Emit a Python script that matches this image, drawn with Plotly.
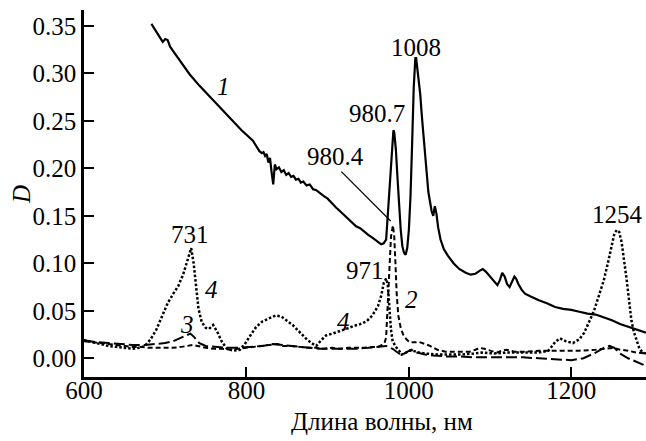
import plotly.graph_objects as go

# ---------------- data ----------------
wl1 = [683, 687, 690, 694, 697, 700, 703, 706, 710, 720, 730, 742, 755, 768, 780, 794, 808, 813, 816, 819,
       821, 823, 825, 827, 829, 831, 833, 835, 837, 840, 843, 846, 849, 852, 855, 858, 861, 864, 867, 870,
       874, 878, 882, 886, 890, 895, 900, 905, 910, 915, 920, 925, 930, 935, 940, 945, 950, 955, 960, 963,
       966, 969, 972, 974, 976, 978, 980, 981, 982, 984, 986, 988, 990, 992, 994, 996, 998, 1000, 1002, 1004,
       1006, 1008, 1009, 1010, 1012, 1014, 1016, 1018, 1020, 1022, 1024, 1026, 1028, 1030, 1032, 1034, 1036,
       1039, 1043, 1048, 1055, 1062, 1070, 1076, 1082, 1087, 1091, 1095, 1100, 1105, 1109, 1112, 1115, 1118,
       1121, 1124, 1127, 1130, 1132, 1135, 1139, 1143, 1150, 1160, 1170, 1180, 1190, 1200, 1210, 1220, 1230,
       1240, 1250, 1260, 1270, 1280, 1292]
d1 = [0.352, 0.347, 0.342, 0.337, 0.333, 0.336, 0.335, 0.328, 0.323, 0.311, 0.299, 0.287, 0.275, 0.263, 0.252,
      0.240, 0.229, 0.222, 0.218, 0.216, 0.217, 0.213, 0.215, 0.206, 0.211, 0.196, 0.183, 0.204, 0.199, 0.201,
      0.196, 0.198, 0.193, 0.195, 0.191, 0.192, 0.188, 0.189, 0.185, 0.186, 0.182, 0.183, 0.178, 0.177, 0.174,
      0.171, 0.168, 0.163, 0.159, 0.155, 0.151, 0.146, 0.143, 0.139, 0.137, 0.133, 0.130, 0.127, 0.124, 0.122,
      0.120, 0.121, 0.125, 0.150, 0.178, 0.210, 0.235, 0.240, 0.238, 0.220, 0.190, 0.160, 0.135, 0.118, 0.111,
      0.109, 0.116, 0.135, 0.170, 0.225, 0.285, 0.316, 0.316, 0.308, 0.295, 0.278, 0.255, 0.232, 0.212, 0.195,
      0.175, 0.163, 0.155, 0.150, 0.160, 0.152, 0.138, 0.125, 0.115, 0.108, 0.100, 0.094, 0.090, 0.088, 0.089,
      0.092, 0.094, 0.091, 0.086, 0.081, 0.077, 0.082, 0.090, 0.086, 0.078, 0.075, 0.080, 0.086, 0.084, 0.078,
      0.072, 0.068, 0.065, 0.061, 0.058, 0.054, 0.052, 0.051, 0.049, 0.047, 0.046, 0.043, 0.040, 0.036, 0.033,
      0.030, 0.027]

wl2 = [600, 610, 620, 630, 640, 650, 660, 670, 680, 690, 700, 710, 720, 728, 734, 740, 750, 760, 770, 780,
       790, 800, 810, 820, 830, 838, 845, 855, 865, 875, 885, 895, 905, 915, 925, 935, 945, 955, 962, 967,
       970, 972, 973, 974, 976, 978, 980.4, 982, 983.5, 985, 987, 990, 993, 997, 1001, 1007, 1013, 1020, 1026,
       1035, 1045, 1060, 1075, 1082, 1087, 1093, 1100, 1108, 1115, 1120, 1130, 1145, 1160, 1175, 1190, 1210,
       1230, 1245, 1252, 1260, 1270, 1280, 1292]
d2 = [0.018, 0.017, 0.016, 0.015, 0.014, 0.013, 0.012, 0.012, 0.011, 0.011, 0.011, 0.011, 0.012, 0.013, 0.014,
      0.013, 0.011, 0.010, 0.010, 0.009, 0.010, 0.011, 0.012, 0.013, 0.014, 0.015, 0.013, 0.013, 0.012, 0.011,
      0.011, 0.010, 0.011, 0.010, 0.011, 0.011, 0.011, 0.012, 0.012, 0.014, 0.016, 0.022, 0.040, 0.068, 0.100,
      0.128, 0.140, 0.128, 0.100, 0.068, 0.045, 0.032, 0.025, 0.020, 0.017, 0.017, 0.017, 0.015, 0.013, 0.009,
      0.007, 0.007, 0.007, 0.009, 0.011, 0.010, 0.008, 0.006, 0.008, 0.009, 0.007, 0.007, 0.008, 0.008, 0.008,
      0.008, 0.009, 0.010, 0.011, 0.009, 0.008, 0.006, 0.005]

wl3 = [600, 615, 630, 645, 660, 675, 690, 700, 710, 718, 725, 731, 736, 742, 750, 760, 775, 790, 805, 820,
       833, 845, 860, 875, 890, 905, 920, 935, 950, 965, 972, 980, 986, 991, 996, 1003, 1010, 1020, 1030, 1045,
       1060, 1080, 1100, 1120, 1140, 1160, 1180, 1200, 1215, 1230, 1240, 1247, 1253, 1260, 1270, 1280, 1292]
d3 = [0.019, 0.017, 0.016, 0.015, 0.014, 0.014, 0.015, 0.016, 0.018, 0.021, 0.024, 0.026, 0.022, 0.016, 0.013,
      0.012, 0.011, 0.011, 0.012, 0.013, 0.015, 0.014, 0.012, 0.011, 0.010, 0.010, 0.010, 0.010, 0.011, 0.012,
      0.013, 0.010, 0.006, 0.003, 0.006, 0.009, 0.006, 0.004, 0.003, 0.002, 0.002, 0.001, 0.001, 0.001, 0.001,
      0.000, -0.001, -0.002, 0.000, 0.006, 0.011, 0.013, 0.011, 0.005, 0.000, -0.004, -0.008]

wl4 = [600, 610, 620, 630, 640, 650, 660, 668, 675, 682, 689, 696, 703, 710, 716, 722, 727, 732, 735, 738,
       741, 745, 750, 754, 759, 764, 770, 776, 784, 792, 798, 804, 812, 820, 828, 836, 843, 850, 857, 865,
       873, 880, 886, 892, 898, 906, 914, 923, 932, 940, 948, 955, 962, 966, 969, 972, 974, 976, 978, 980,
       984, 988, 991, 995, 1000, 1005, 1012, 1020, 1035, 1050, 1065, 1080, 1090, 1105, 1120, 1140, 1160, 1172,
       1180, 1186, 1193, 1202, 1210, 1216, 1222, 1228, 1234, 1240, 1245, 1249, 1253, 1256, 1259, 1262, 1265,
       1268, 1271, 1274, 1277, 1280, 1284, 1288, 1292]
d4 = [0.019, 0.017, 0.015, 0.013, 0.012, 0.011, 0.010, 0.011, 0.013, 0.020, 0.030, 0.044, 0.058, 0.068, 0.076,
      0.088, 0.103, 0.116, 0.100, 0.076, 0.052, 0.038, 0.032, 0.031, 0.035, 0.028, 0.017, 0.010, 0.008, 0.009,
      0.015, 0.023, 0.033, 0.039, 0.042, 0.045, 0.044, 0.039, 0.035, 0.028, 0.021, 0.016, 0.013, 0.019, 0.024,
      0.026, 0.028, 0.031, 0.034, 0.036, 0.039, 0.045, 0.055, 0.066, 0.079, 0.084, 0.078, 0.050, 0.030, 0.018,
      0.012, 0.008, 0.004, 0.005, 0.008, 0.008, 0.006, 0.005, 0.004, 0.004, 0.004, 0.005, 0.006, 0.005, 0.006,
      0.006, 0.006, 0.008, 0.017, 0.021, 0.018, 0.016, 0.020, 0.027, 0.038, 0.050, 0.066, 0.082, 0.100, 0.117,
      0.131, 0.135, 0.133, 0.122, 0.105, 0.084, 0.062, 0.040, 0.028, 0.020, 0.010, 0.006, 0.005]

x_ticks = [600, 800, 1000, 1200]
y_ticks = [0.00, 0.05, 0.10, 0.15, 0.20, 0.25, 0.30, 0.35]

# peak labels: (text, wavelength, D)
peak_labels = [("731", 730.6, 0.130), ("971", 945.6, 0.092), ("980.4", 909.7, 0.212),
               ("980.7", 961.0, 0.258), ("1008", 1009.2, 0.327), ("1254", 1256.4, 0.151)]
curve_labels = [("1", 771.3, 0.286), ("2", 1003.0, 0.062), ("3", 727.0, 0.036),
                ("4", 756.9, 0.072), ("4", 919.8, 0.039)]

FONT = "Liberation Serif, DejaVu Serif, serif"
FS = 25

fig = go.Figure()
fig.add_trace(go.Scatter(x=wl1, y=d1, mode="lines", line=dict(color="black", width=2.2), name="1"))
fig.add_trace(go.Scatter(x=wl2, y=d2, mode="lines", line=dict(color="black", width=2, dash="5px,3px"), name="2"))
fig.add_trace(go.Scatter(x=wl3, y=d3, mode="lines", line=dict(color="black", width=2, dash="11px,4px"), name="3"))
fig.add_trace(go.Scatter(x=wl4, y=d4, mode="lines", line=dict(color="black", width=2.5, dash="2.5px,2px"), name="4"))

for t, x, y in peak_labels:
    fig.add_annotation(x=x, y=y, text=t, showarrow=False, font=dict(family=FONT, size=FS, color="black"))
for t, x, y in curve_labels:
    fig.add_annotation(x=x, y=y, text="<i>" + t + "</i>", showarrow=False,
                       font=dict(family=FONT, size=FS, color="black"))

# pointer for 980.4
fig.add_shape(type="line", x0=916.9, y0=0.1964, x1=977.6, y1=0.1445, line=dict(color="black", width=1.2))

# axis titles
fig.add_annotation(xref="paper", yref="paper", x=0.531, y=-0.12, text="Длина волны, нм",
                   showarrow=False, yanchor="middle", font=dict(family=FONT, size=FS, color="black"))
fig.add_annotation(xref="paper", yref="paper", x=-0.1103, y=0.496, text="<i>D</i>", textangle=-90,
                   showarrow=False, xanchor="center", yanchor="middle",
                   font=dict(family=FONT, size=FS, color="black"))

fig.update_layout(
    width=646, height=441,
    margin=dict(l=84, r=0, t=10, b=64, autoexpand=False),
    paper_bgcolor="white", plot_bgcolor="white",
    showlegend=False,
    font=dict(family=FONT, size=FS, color="black"),
)
fig.update_xaxes(range=[600, 1292], tickvals=x_ticks, ticks="inside", ticklen=10, tickwidth=2,
                 tickcolor="black", showline=True, linecolor="black", linewidth=2.5, showgrid=False,
                 zeroline=False, automargin=False, ticklabelstandoff=-11,
                 tickfont=dict(family=FONT, size=FS, color="black"))
fig.update_yaxes(range=[-0.0197, 0.3666], tickvals=y_ticks, tickformat=".2f", ticks="inside", ticklen=10,
                 tickwidth=2, tickcolor="black", showline=True, linecolor="black", linewidth=2.5,
                 showgrid=False, zeroline=False, automargin=False,
                 tickfont=dict(family=FONT, size=FS, color="black"))

fig.write_html("out.html", config={"displayModeBar": False},
               post_script="document.body.style.margin='0';document.body.style.padding='0';")
